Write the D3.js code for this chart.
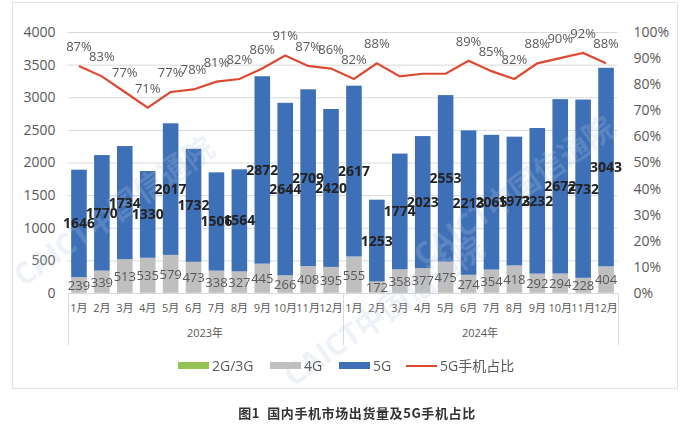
<!DOCTYPE html>
<html><head><meta charset="utf-8">
<script src="https://cdn.jsdelivr.net/npm/d3@7"></script>
<style>body{margin:0;background:#fff;font-family:"Open Sans","Noto Sans CJK SC",sans-serif}</style>
</head><body><svg id="c" width="687" height="436"></svg>
<script>
const months = ["1月","2月","3月","4月","5月","6月","7月","8月","9月","10月","11月","12月"];
const years = ["2023年","2024年"];
const g23 = [5,5,5,5,5,5,5,5,5,5,5,5];
const g24 = [5,5,5,5,5,5,5,5,5,5,5,5];
const lte = [239,339,513,535,579,473,338,327,445,266,408,395, 555,172,358,377,475,274,354,418,292,294,228,404];
const nr = [1646,1770,1734,1330,2017,1732,1506,1564,2872,2644,2709,2420, 2617,1253,1774,2023,2553,2213,2065,1973,2232,2672,2732,3043];
const share = [87,83,77,71,77,78,81,82,86,91,87,86, 82,88,83,84,84,89,85,82,88,90,92,88];
const showLabel = [1,1,1,1,1,1,1,1,1,1,1,1, 1,1,0,0,0,1,1,1,1,1,1,1];
const leftTicks = [0,500,1000,1500,2000,2500,3000,3500,4000];
const rightTicks = [0,10,20,30,40,50,60,70,80,90,100];

const legacy = g23.concat(g24);
const data = lte.map((v,i)=>({key:i, y:Math.floor(i/12), m:months[i%12], g:legacy[i], l:v, n:nr[i], s:share[i], show:showLabel[i]}));

const svg = d3.select("#c");
const L=67.5, R=617.5, T=32, B=293;
const x = d3.scaleBand().domain(data.map(d=>d.key)).range([L,R]).paddingInner(0.32).paddingOuter(0.16);
const y = d3.scaleLinear().domain([0,4000]).range([B,T]);
const y2 = d3.scaleLinear().domain([0,100]).range([B,T]);
const txt="#595959";

// frame
svg.append("rect").attr("x",12.5).attr("y",2.5).attr("width",665).attr("height",386).attr("fill","none").attr("stroke","#e3e3e3");

// gridlines
svg.append("g").selectAll("line").data(leftTicks.slice(1)).join("line")
  .attr("x1",L).attr("x2",R).attr("y1",d=>y(d)+0.5).attr("y2",d=>y(d)+0.5).attr("stroke","#d9d9d9");

// left axis
const ax = svg.append("g").attr("transform",`translate(${L},0)`).call(d3.axisLeft(y).tickValues(leftTicks).tickSize(0).tickPadding(12).tickFormat(d3.format("d")));
ax.select(".domain").remove();
ax.selectAll("text").attr("fill",txt).attr("font-size",14).attr("font-family","Open Sans, sans-serif");
// right axis
const ax2 = svg.append("g").attr("transform",`translate(${R},0)`).call(d3.axisRight(y2).tickValues(rightTicks).tickSize(0).tickPadding(16).tickFormat(d=>d+"%"));
ax2.select(".domain").remove();
ax2.selectAll("text").attr("fill",txt).attr("font-size",14).attr("font-family","Open Sans, sans-serif");

// bars
const bars = svg.append("g");
bars.selectAll(".g").data(data).join("rect").attr("x",d=>x(d.key)).attr("width",x.bandwidth())
  .attr("y",d=>y(d.g)).attr("height",d=>y(0)-y(d.g)).attr("fill","#92c353");
bars.selectAll(".l").data(data).join("rect").attr("x",d=>x(d.key)).attr("width",x.bandwidth())
  .attr("y",d=>y(d.g+d.l)).attr("height",d=>y(d.g)-y(d.g+d.l)).attr("fill","#bfbfbf");
bars.selectAll(".n").data(data).join("rect").attr("x",d=>x(d.key)).attr("width",x.bandwidth())
  .attr("y",d=>y(d.g+d.l+d.n)).attr("height",d=>y(d.g+d.l)-y(d.g+d.l+d.n)).attr("fill","#3d70b6");

// x axis lines
const xa = svg.append("g").attr("stroke","#d9d9d9");
xa.append("line").attr("x1",L).attr("x2",R).attr("y1",B+0.5).attr("y2",B+0.5);
[L, (x(11)+x.bandwidth()+x(12))/2, R].forEach(px=>{
  xa.append("line").attr("x1",Math.round(px)+0.5).attr("x2",Math.round(px)+0.5).attr("y1",B).attr("y2",345);
});
svg.append("g").selectAll("text").data(data).join("text")
  .attr("x",d=>x(d.key)+x.bandwidth()/2).attr("y",312).attr("text-anchor","middle")
  .attr("fill",txt).attr("font-size",11).text(d=>d.m);
svg.append("g").selectAll("text").data(years).join("text")
  .attr("x",(d,i)=>(x(i*12)+x(i*12+11)+x.bandwidth())/2).attr("y",337).attr("text-anchor","middle")
  .attr("fill",txt).attr("font-size",11).text(d=>d);

// watermark (faint)
const wm = svg.append("g").attr("fill","#b8c6dc").attr("opacity",0.25).attr("font-weight","bold").attr("font-size",30);
[[120,220],[390,320],[520,200]].forEach(([wx,wy])=>{
  wm.append("text").attr("transform",`translate(${wx},${wy}) rotate(-35)`).attr("text-anchor","middle").text("CAICT中国信通院");
});

// line
const line = d3.line().x(d=>x(d.key)+x.bandwidth()/2).y(d=>y2(d.s));
svg.append("path").datum(data).attr("d",line).attr("fill","none").attr("stroke","#dc4a32").attr("stroke-width",2.2);

// labels
svg.append("g").selectAll("text").data(data).join("text")
  .attr("x",d=>x(d.key)+x.bandwidth()/2).attr("y",d=>y(d.g+d.l/2)+5).attr("text-anchor","middle")
  .attr("fill",txt).attr("font-size",13).text(d=>d.l);
svg.append("g").selectAll("text").data(data).join("text")
  .attr("x",d=>x(d.key)+x.bandwidth()/2).attr("y",d=>y(d.g+d.l+d.n/2)+5).attr("text-anchor","middle")
  .attr("fill","#222").attr("font-size",14).attr("font-weight","bold").text(d=>d.n);
svg.append("g").selectAll("text").data(data.filter(d=>d.show)).join("text")
  .attr("x",d=>x(d.key)+x.bandwidth()/2).attr("y",d=>y2(d.s)-15).attr("text-anchor","middle")
  .attr("fill",txt).attr("font-size",13).text(d=>d.s+"%");

// legend
const lg = svg.append("g").attr("font-size",14).attr("fill",txt);
const items=[{t:"2G/3G",c:"#92c353",x:178,type:"r"},{t:"4G",c:"#bfbfbf",x:270,type:"r"},{t:"5G",c:"#3d70b6",x:339,type:"r"},{t:"5G手机占比",c:"#dc4a32",x:406,type:"l"}];
items.forEach(it=>{
  if(it.type==="r") lg.append("rect").attr("x",it.x).attr("y",362).attr("width",31).attr("height",7).attr("fill",it.c);
  else lg.append("line").attr("x1",it.x).attr("x2",it.x+31).attr("y1",366).attr("y2",366).attr("stroke",it.c).attr("stroke-width",2);
  lg.append("text").attr("x",it.x+34).attr("y",371).attr("fill",txt).text(it.t);
});

// caption
svg.append("text").attr("x",357).attr("y",418).attr("text-anchor","middle").attr("font-size",13)
  .attr("font-weight","bold").attr("fill","#333").attr("letter-spacing",0.6).style("white-space","pre")
  .attr("font-family","Noto Sans CJK SC, sans-serif").text("图1  国内手机市场出货量及5G手机占比");
</script></body></html>
